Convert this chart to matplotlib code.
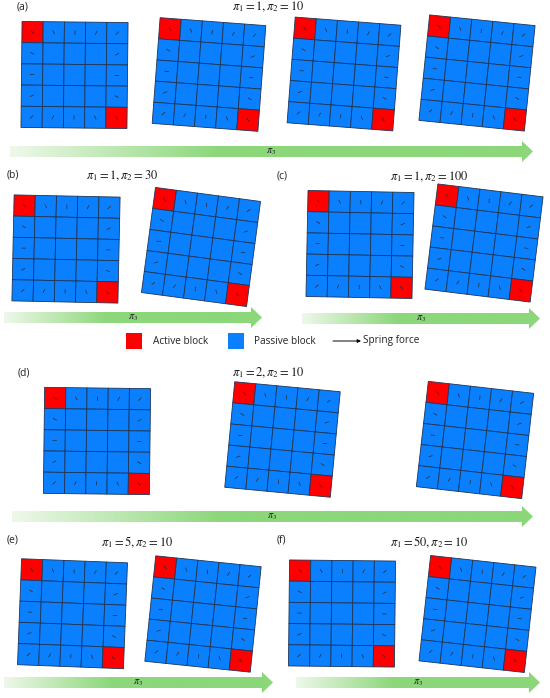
import numpy as np
import matplotlib
matplotlib.use('Agg')
import matplotlib.pyplot as plt
from matplotlib.patches import Polygon, Rectangle
from matplotlib.colors import LinearSegmentedColormap

plt.rcParams['mathtext.fontset'] = 'stix'

# ---------------- data ----------------
panel_labels = ['(a)', '(b)', '(c)', '(d)', '(e)', '(f)']
pi1_values = [1, 1, 1, 2, 5, 50]
pi2_values = [10, 30, 100, 10, 10, 10]
# clockwise rotation (deg) of each deformed 5x5 assembly, ordered by increasing pi3
rot_a = [0.6, 4.3, 4.4, 5.8]
rot_b = [1.2, 7.6]
rot_c = [1.1, 7.0]
rot_d = [0.7, 5.4, 6.5]
rot_e = [2.2, 5.9]
rot_f = [0.6, 6.3]
rotations = [rot_a, rot_b, rot_c, rot_d, rot_e, rot_f]
legend_labels = ['Active block', 'Passive block', 'Spring force']
n_blocks = 5

# ---------------- layout / style ----------------
W, H = 550, 698
BLUE = '#0A80FF'
RED = '#FF0000'
EDGE = '#1D3557'
GRID = 106.0

layout = [
    dict(label=(17, 7), title=(268.5, 7),
         centers=[(74.5, 75), (209, 74.5), (344, 74), (477, 73)], arrow=(10, 533, 151.5)),
    dict(label=(7, 175), title=(122, 176),
         centers=[(66, 249), (201, 247)], arrow=(4, 262, 317.5)),
    dict(label=(277, 176), title=(429, 177),
         centers=[(360, 244.5), (484, 243)], arrow=(302, 540, 318.5)),
    dict(label=(18, 373), title=(268.5, 373),
         centers=[(97, 441), (282.5, 439.5), (475, 440)], arrow=(12, 533, 516.5)),
    dict(label=(7, 540), title=(137, 542),
         centers=[(72.5, 613.75), (203, 614)], arrow=(4, 273, 682.5)),
    dict(label=(277, 540), title=(429.5, 542),
         centers=[(342, 613.5), (477.5, 614)], arrow=(296, 540, 682.5)),
]

fig = plt.figure(figsize=(W / 100, H / 100), dpi=100)
ax = fig.add_axes([0, 0, 1, 1])

cmap = LinearSegmentedColormap.from_list(
    'g', [(0, '#EEF8EA'), (0.4, '#8CD77A'), (1, '#8CD77A')])


def draw_grid(ax, center, rot_deg, size=GRID, n=n_blocks):
    cx, cy = center
    t = np.deg2rad(rot_deg)
    c, s = np.cos(t), np.sin(t)
    cell = size / n

    def tr(u, v):
        return (cx + c * u - s * v, cy + s * u + c * v)

    half = size / 2
    for i in range(n):          # row
        for j in range(n):      # col
            u0 = -half + j * cell
            v0 = -half + i * cell
            pts = [tr(u0, v0), tr(u0 + cell, v0), tr(u0 + cell, v0 + cell), tr(u0, v0 + cell)]
            active = (i == 0 and j == 0) or (i == n - 1 and j == n - 1)
            ax.add_patch(Polygon(pts, closed=True, facecolor=RED if active else BLUE,
                                 edgecolor=EDGE, lw=0.6, zorder=2))
            border = i in (0, n - 1) or j in (0, n - 1)
            if border:
                uc, vc = u0 + cell / 2, v0 + cell / 2
                d = np.array([-uc, -vc])
                d = d / np.linalg.norm(d) * 1.8
                p1 = tr(uc - d[0], vc - d[1])
                p2 = tr(uc + d[0], vc + d[1])
                ax.plot([p1[0], p2[0]], [p1[1], p2[1]], color='#2A2A2A', lw=0.5, zorder=3)


def grad_arrow(ax, x0, x1, yc):
    hb, hh, hl = 5.5, 10.5, 11
    verts = [(x0, yc - hb), (x1 - hl, yc - hb), (x1 - hl, yc - hh), (x1, yc),
             (x1 - hl, yc + hh), (x1 - hl, yc + hb), (x0, yc + hb)]
    poly = Polygon(verts, closed=True, facecolor='none', edgecolor='none')
    ax.add_patch(poly)
    g = np.linspace(0, 1, 256)[None, :]
    im = ax.imshow(g, cmap=cmap, extent=(x0, x1, yc + hh, yc - hh), aspect='auto',
                   interpolation='bilinear', zorder=1)
    im.set_clip_path(poly)


for k, lay in enumerate(layout):
    ax.text(lay['label'][0], lay['label'][1], panel_labels[k], ha='left', va='center',
            fontsize=7.5, family='Open Sans', color='#222222')
    ax.text(lay['title'][0], lay['title'][1],
            r'$\pi_1 = %s, \pi_2 = %s$' % (pi1_values[k], pi2_values[k]),
            ha='center', va='center', fontsize=9, color='#1A1A1A')
    for cen, r in zip(lay['centers'], rotations[k]):
        draw_grid(ax, cen, r)
    x0, x1, yc = lay['arrow']
    grad_arrow(ax, x0, x1, yc)
    ax.text((x0 + x1) / 2, yc + 0.5, r'$\pi_3$', ha='center', va='center',
            fontsize=7.5, color='#222222', zorder=4)

# legend
ly = 341
ax.add_patch(Rectangle((126, ly - 8), 16, 16, facecolor=RED, edgecolor='none'))
ax.text(153, ly, legend_labels[0], ha='left', va='center', fontsize=7.2, family='Open Sans',
        color='#222222')
ax.add_patch(Rectangle((228, ly - 8), 16, 16, facecolor=BLUE, edgecolor='none'))
ax.text(254, ly, legend_labels[1], ha='left', va='center', fontsize=7.2, family='Open Sans',
        color='#222222')
ax.annotate('', xy=(361, ly), xytext=(333, ly),
            arrowprops=dict(arrowstyle='-|>', lw=0.7, color='black', mutation_scale=5,
                            shrinkA=0, shrinkB=0))
ax.text(363, ly, legend_labels[2], ha='left', va='center', fontsize=7.2, family='Open Sans',
        color='#222222')

ax.set_xlim(0, W)
ax.set_ylim(H, 0)
ax.axis('off')
fig.savefig('out.png', dpi=100)
